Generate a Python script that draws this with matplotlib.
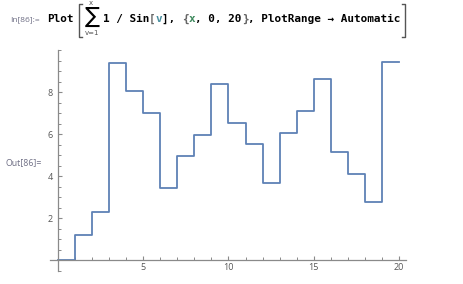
import matplotlib
matplotlib.use("Agg")
import matplotlib.pyplot as plt
from matplotlib.ticker import MultipleLocator, FixedLocator
from matplotlib.lines import Line2D

# Data (step values on [k, k+1))
x_start = list(range(0, 21))
step_values = [0.0, 1.19, 2.29, 9.37, 8.05, 7.01, 3.43, 4.95, 5.96, 8.39,
               6.55, 5.55, 3.69, 6.07, 7.08, 8.62, 5.14, 4.10, 2.77, 9.44]
x_ticks = [5, 10, 15, 20]
y_ticks = [2, 4, 6, 8]

W, H = 463, 284
fig = plt.figure(figsize=(W / 100, H / 100), dpi=100)
fig.patch.set_facecolor("white")


def fx(px):
    return px / W


def fy(py):
    return 1 - py / H


ax = fig.add_axes([fx(50), fy(271), 356 / W, 221 / H])
ys = step_values + [step_values[-1]]
ax.step(x_start, ys, where="post", color="#5E81B5", lw=1.3)

ax.set_xlim(-0.45, 20.4)
ax.set_ylim(-0.5, 10.0)
for s in ["top", "right"]:
    ax.spines[s].set_visible(False)
for s in ["left", "bottom"]:
    ax.spines[s].set_position(("data", 0))
    ax.spines[s].set_color("#8a8a8a")
    ax.spines[s].set_linewidth(0.9)

ax.xaxis.set_major_locator(FixedLocator(x_ticks))
ax.yaxis.set_major_locator(FixedLocator(y_ticks))
ax.xaxis.set_minor_locator(MultipleLocator(1))
ax.yaxis.set_minor_locator(MultipleLocator(0.5))
ax.tick_params(axis="x", which="both", direction="in", colors="#8a8a8a",
               labelcolor="#555555", labelsize=6.5, pad=2)
ax.tick_params(axis="y", which="both", direction="in", colors="#8a8a8a",
               labelcolor="#555555", labelsize=6.5, pad=3.5)
ax.tick_params(which="major", length=3.2, width=0.8)
ax.tick_params(which="minor", length=2.0, width=0.7)
for lab in ax.get_xticklabels() + ax.get_yticklabels():
    lab.set_family("Open Sans")
ax.patch.set_alpha(0)

# Header text
lab_color = "#6f6f85"
fig.text(fx(10), fy(21), "In[86]:=", fontsize=6, color=lab_color,
         family="Open Sans", va="baseline", ha="left")
fig.text(fx(5), fy(163), "Out[86]=", fontsize=6.3, color=lab_color,
         family="Open Sans", va="center", ha="left")

mono = "DejaVu Sans Mono"
fs = 7.9
fig.text(fx(47), fy(22), "Plot", fontsize=fs, weight="bold", family=mono,
         va="baseline", ha="left", color="black")

# big brackets
br = "#555555"
for xs_, ys_ in [([82, 79, 79, 82], [4, 4, 37, 37]),
                 ([402, 405, 405, 402], [4, 4, 37, 37])]:
    fig.add_artist(Line2D([fx(v) for v in xs_], [fy(v) for v in ys_],
                          color=br, lw=1.0, transform=fig.transFigure))

fig.text(fx(92), fy(17), "\u2211", fontsize=16, family="DejaVu Sans",
         va="center", ha="center", color="black")
fig.text(fx(91), fy(3), "x", fontsize=5, family="DejaVu Sans",
         va="center", ha="center", color="#555555")
fig.text(fx(92), fy(33), "v=1", fontsize=5, family="DejaVu Sans",
         va="center", ha="center", color="#555555")

segments = [("1 / Sin", "black"), ("[", "#666666"), ("v", "#4a8fa0"),
            ("], ", "black"), ("{", "#666666"), ("x", "#3f8a5e"),
            (", 0, 20", "black"), ("}", "#666666"),
            (", PlotRange \u2192 Automatic", "black")]
cw = 0.602 * fs * 100 / 72
pos = 103
for txt, col in segments:
    fig.text(fx(pos), fy(22), txt, fontsize=fs, weight="bold", family=mono,
             va="baseline", ha="left", color=col)
    pos += cw * len(txt)

fig.savefig("out.png", dpi=100)
